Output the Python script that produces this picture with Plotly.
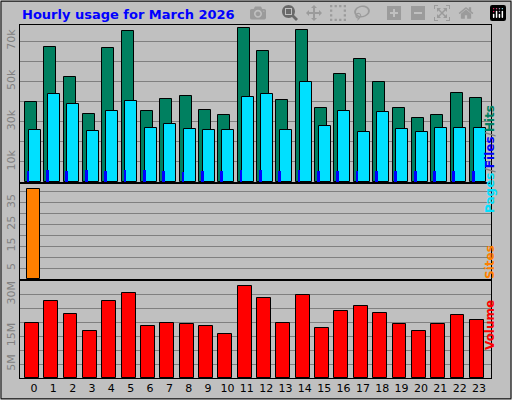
import plotly.graph_objects as go

hours = list(range(24))
hits = [39.5,67,52,34,66.5,75,35.5,41,42.5,36,33.5,76.5,65,40.5,75.5,37,53.5,61,49.5,37,32,33.5,44,41.5]
files = [26,43.5,39,25.5,35.5,40,27,29,26.5,26,26,42,43.5,26,49.5,28,35.5,25,35,26.5,25,27,27,27]
pages = [5.5,6,5.5,6,5.5,6,6,5.5,5,5.5,5.5,6,6,5.5,6,5.5,5.5,5.5,5.5,5.5,5.5,5.5,5.5,5.5]
sites = [41]+[None]*23
volume = [19.6,27.5,22.8,17,27.5,30.4,18.8,19.6,19.2,18.5,15.9,33,28.6,19.6,29.7,17.8,23.9,26,23.2,19.2,17,19.2,22.5,20.7]

k = [v*1000 for v in hits]
fk = [v*1000 for v in files]
pk = [v*1000 for v in pages]
line = dict(color="black", width=1)
fig = go.Figure()
fig.add_bar(x=hours, y=k, offset=-0.47, width=0.62, marker=dict(color="#008060", line=line), xaxis="x", yaxis="y")
fig.add_bar(x=hours, y=fk, offset=-0.27, width=0.62, marker=dict(color="#00e0ff", line=line), xaxis="x", yaxis="y")
fig.add_bar(x=hours, y=pk, offset=-0.37, width=0.14, marker=dict(color="#0000ff", line=dict(width=0)), xaxis="x", yaxis="y")
fig.add_bar(x=hours, y=sites, offset=-0.37, width=0.68, marker=dict(color="#ff8000", line=line), xaxis="x2", yaxis="y2")
fig.add_bar(x=hours, y=[v*1e6 for v in volume], offset=-0.47, width=0.72, marker=dict(color="#ff0000", line=line), xaxis="x3", yaxis="y3")

xr = [-0.72, 23.62]
xd = [20/512, 491/512]
ax = dict(range=xr, domain=xd, showgrid=False, zeroline=False, showline=True, linecolor="black", mirror=True, fixedrange=True)
tf = dict(family="DejaVu Sans", size=11, color="#808080")
yc = dict(showgrid=True, gridcolor="#808080", gridwidth=1, zeroline=False, showline=True, linecolor="black", mirror=True, tickangle=-90, tickfont=tf, ticks="", ticklen=0)
tv1 = [i*10000 for i in range(1,8)]
tt1 = ["10k","","30k","","50k","","70k"]
tv2 = [5,10,15,20,25,30,35,40]
tt2 = ["5","","15","","25","","35",""]
tv3 = [i*5e6 for i in range(1,7)]
tt3 = ["5M","","15M","","","30M"]
fig.update_layout(
    width=512, height=400, margin=dict(l=0,r=0,t=0,b=0),
    paper_bgcolor="#c0c0c0", plot_bgcolor="#c0c0c0", showlegend=False, barmode="overlay", bargap=0,
    font=dict(family="DejaVu Sans"),
    xaxis=dict(ax, anchor="y", showticklabels=False),
    xaxis2=dict(ax, anchor="y2", showticklabels=False),
    xaxis3=dict(ax, anchor="y3", tickvals=hours, tickfont=dict(family="DejaVu Sans", size=11, color="black"), ticks=""),
    yaxis=dict(yc, domain=[1-182/400, 1-25/400], range=[0, 78000], tickvals=tv1, ticktext=tt1, anchor="x"),
    yaxis2=dict(yc, domain=[1-279/400, 1-184/400], range=[0, 43.5], tickvals=tv2, ticktext=tt2, anchor="x2"),
    yaxis3=dict(yc, domain=[1-378/400, 1-281/400], range=[0, 34.8e6], tickvals=tv3, ticktext=tt3, anchor="x3"),
    annotations=[
        dict(x=20/512, y=1-14/400, xref="paper", yref="paper", xanchor="left", yanchor="middle", showarrow=False,
             text="<b>Hourly usage for March 2026</b>", font=dict(family="DejaVu Sans", size=13, color="#0000ff")),
        dict(x=499/512, y=1-103/400, xref="paper", yref="paper", textangle=-90, showarrow=False,
             text="<b><span style='color:#00e0ff'>Pages</span><span style='color:#808080'>/</span><span style='color:#0000ff'>Files</span><span style='color:#808080'>/</span><span style='color:#008060'>Hits</span></b>",
             font=dict(family="DejaVu Sans", size=12)),
        dict(x=499/512, y=1-262/400, xref="paper", yref="paper", textangle=-90, showarrow=False,
             text="<b>Sites</b>", font=dict(family="DejaVu Sans", size=12, color="#ff8000")),
        dict(x=499/512, y=1-352/400, xref="paper", yref="paper", textangle=-90, showarrow=False,
             text="<b>Volume</b>", font=dict(family="DejaVu Sans", size=12, color="#ff0000")),
    ],
    shapes=[dict(type="rect", xref="paper", yref="paper", x0=0.002, y0=0.003, x1=0.998, y1=0.997, line=dict(color="black", width=1))],
)
fig.write_html("out.html", post_script="document.body.style.margin='0';document.body.style.overflow='hidden';")
